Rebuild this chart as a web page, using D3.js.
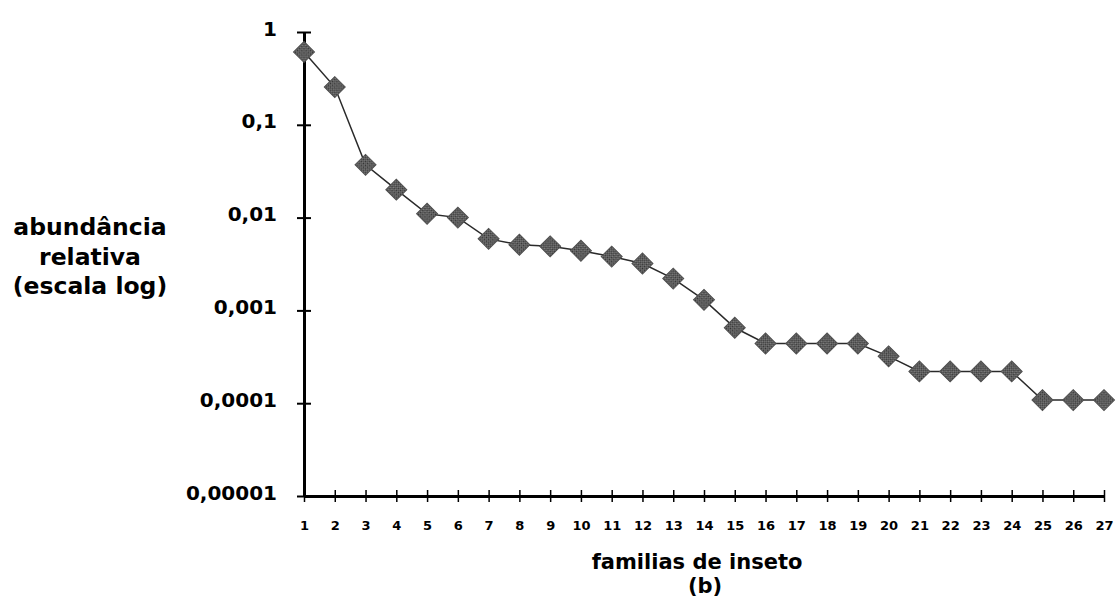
<!DOCTYPE html>
<html>
<head>
<meta charset="utf-8">
<script src="https://cdn.jsdelivr.net/npm/d3@7"></script>
<style>
  body { margin: 0; background: #fff; }
  text { font-family: "DejaVu Sans", sans-serif; font-weight: bold; fill: #000; }
</style>
</head>
<body>
<svg id="chart" width="1117" height="610"></svg>
<script>
// familias de inseto (rank) and abundância relativa
const familias = d3.range(1, 28);
const abundancia = [
  0.61, 0.255, 0.037, 0.020, 0.011, 0.010, 0.0059, 0.0051, 0.0049,
  0.0044, 0.0038, 0.0032, 0.0022, 0.0013, 0.00065, 0.00044, 0.00044,
  0.00044, 0.00044, 0.00032, 0.00022, 0.00022, 0.00022, 0.00022,
  0.000108, 0.000108, 0.000108
];
const yTicks = [1, 0.1, 0.01, 0.001, 0.0001, 0.00001];
const yTickLabels = ["1", "0,1", "0,01", "0,001", "0,0001", "0,00001"];

const svg = d3.select("#chart");
const margin = { left: 304, right: 13, top: 32, bottom: 114 };
const W = 1117, H = 610;

const x = d3.scalePoint()
  .domain(familias)
  .range([margin.left, W - margin.right]);

const y = d3.scaleLog()
  .domain([0.00001, 1])
  .range([H - margin.bottom, margin.top]);

// dithered grey fill for the markers
const defs = svg.append("defs");
const pat = defs.append("pattern")
  .attr("id", "dither")
  .attr("width", 3).attr("height", 3)
  .attr("patternUnits", "userSpaceOnUse");
pat.append("rect").attr("width", 3).attr("height", 3).attr("fill", "#808080");
pat.append("rect").attr("width", 1.5).attr("height", 1.5).attr("fill", "#303030");
pat.append("rect").attr("x", 1.5).attr("y", 1.5).attr("width", 1.5).attr("height", 1.5).attr("fill", "#404040");

// y axis
const yAxis = svg.append("g")
  .attr("transform", `translate(${margin.left},0)`)
  .call(d3.axisLeft(y).tickValues(yTicks).tickSize(0).tickFormat(""));
yAxis.select(".domain").attr("stroke", "#000").attr("stroke-width", 3);
yAxis.selectAll(".tick").append("line")
  .attr("x1", -7).attr("x2", 7)
  .attr("stroke", "#000").attr("stroke-width", 2);
yAxis.selectAll(".tick").append("text")
  .attr("x", -27).attr("dy", 3)
  .attr("text-anchor", "end")
  .style("font-size", "20px")
  .text((d, i) => yTickLabels[i]);

// x axis
const xAxis = svg.append("g")
  .attr("transform", `translate(0,${y(0.00001)})`)
  .call(d3.axisBottom(x).tickSize(0).tickFormat(""));
xAxis.select(".domain").attr("stroke", "#000").attr("stroke-width", 3);
xAxis.selectAll(".tick").append("line")
  .attr("y1", -6).attr("y2", 6)
  .attr("stroke", "#000").attr("stroke-width", 1.5);
xAxis.selectAll(".tick").append("text")
  .attr("y", 34)
  .attr("text-anchor", "middle")
  .style("font-size", "13px")
  .text(d => d);

// series line
const line = d3.line()
  .x((d, i) => x(familias[i]))
  .y(d => y(d));

svg.append("path")
  .datum(abundancia)
  .attr("fill", "none")
  .attr("stroke", "#2a2a2a")
  .attr("stroke-width", 1.5)
  .attr("d", line);

// diamond markers
const diamond = d3.symbol().type(d3.symbolSquare).size(220);
svg.append("g")
  .selectAll("path")
  .data(abundancia)
  .join("path")
  .attr("transform", (d, i) => `translate(${x(familias[i])},${y(d)}) rotate(45)`)
  .attr("d", diamond)
  .attr("fill", "url(#dither)")
  .attr("stroke", "#505050")
  .attr("stroke-width", 1);

// axis titles
const yTitle = svg.append("text")
  .attr("text-anchor", "middle")
  .style("font-size", "23.5px");
["abundância", "relativa", "(escala log)"].forEach((t, i) => {
  yTitle.append("tspan").attr("x", 90).attr("y", 235 + i * 29.5).text(t);
});

svg.append("text")
  .attr("x", 697).attr("y", 569)
  .attr("text-anchor", "middle")
  .style("font-size", "21px")
  .text("familias de inseto");

svg.append("text")
  .attr("x", 705).attr("y", 593)
  .attr("text-anchor", "middle")
  .style("font-size", "21px")
  .text("(b)");
</script>
</body>
</html>
